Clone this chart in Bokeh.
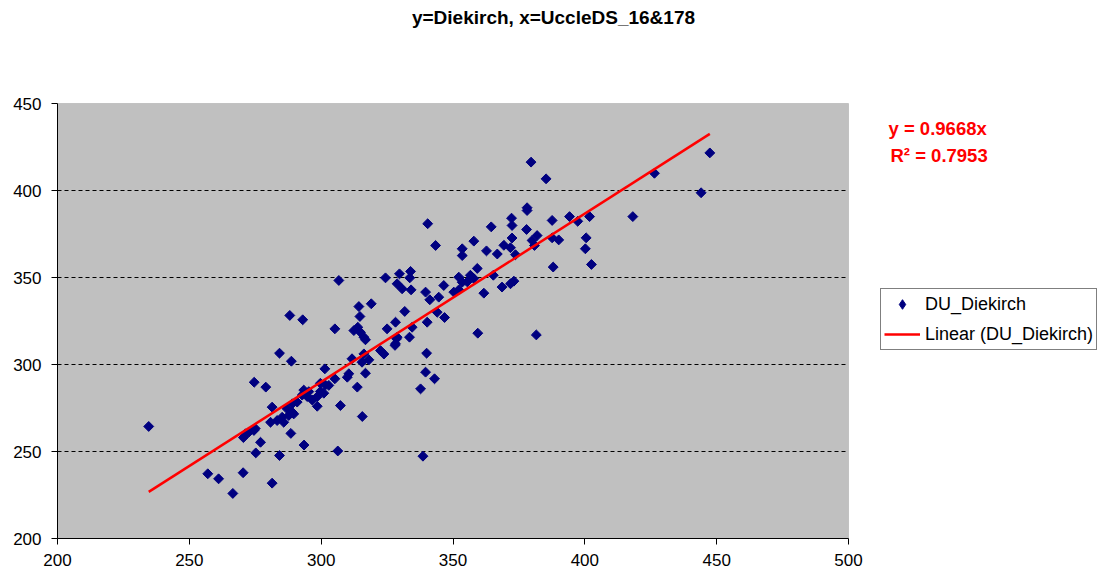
import math
from bokeh.plotting import figure
from bokeh.models import Range1d, Label, FixedTicker, Legend, BoxAnnotation
from bokeh.embed import file_html
from bokeh.resources import INLINE

# UccleDS_16&178 (x) vs Diekirch (y)
x_vals = [
    234.6, 257.0, 261.1, 266.5, 270.4, 281.4, 275.2, 284.2, 277.0, 293.5,
    306.3, 271.3, 272.5, 274.5, 270.5, 275.0, 288.5, 298.5, 307.3, 281.4,
    287.1, 289.0, 290.9, 287.7, 289.6, 285.2, 283.3, 280.8, 285.8, 289.0,
    274.6, 279.0, 284.2, 288.7, 288.1, 293.0, 301.4, 301.6, 299.7, 295.3,
    293.4, 298.5, 296.6, 292.8, 294.7, 299.7, 301.0, 302.9, 315.6, 310.5,
    309.9, 305.2, 313.7, 316.8, 311.7, 318.1, 316.2, 315.5, 322.5, 323.8,
    328.2, 328.8, 305.2, 312.4, 313.9, 314.9, 316.2, 316.8, 314.7, 314.3,
    319.0, 325.0, 328.2, 331.7, 333.5, 328.6, 328.0, 334.5, 340.2, 344.0,
    346.8, 340.0, 339.6, 343.0, 337.7, 338.6, 359.4, 381.6, 306.7, 324.4,
    329.7, 333.9, 333.6, 328.8, 330.7, 334.1, 339.6, 341.2, 344.6, 346.5,
    352.2, 353.5, 352.2, 350.3, 353.5, 353.5, 357.9, 362.7, 364.5, 359.2,
    356.6, 355.4, 357.9, 361.7, 365.3, 366.8, 369.3, 372.4, 373.7, 371.8,
    368.6, 371.8, 373.1, 372.2, 372.4, 378.1, 378.1, 377.9, 379.6, 385.3,
    340.4, 343.4, 447.4, 426.4, 444.1, 418.2, 387.6, 394.2, 397.3, 401.8,
    381.9, 380.0, 380.9, 387.6, 390.1, 400.5, 400.2, 388.0, 402.5,
]
y_vals = [
    264.4, 237.2, 234.3, 225.9, 237.8, 231.8, 249.2, 247.7, 255.3, 253.7,
    250.3, 260.2, 261.0, 262.1, 258.0, 263.2, 260.4, 276.0, 276.4, 275.5,
    274.5, 277.4, 278.4, 270.7, 271.6, 269.7, 267.8, 266.8, 266.8, 272.6,
    289.8, 287.0, 306.5, 301.9, 328.2, 325.7, 297.5, 288.2, 289.2, 284.4,
    285.3, 281.5, 279.6, 282.4, 281.6, 284.5, 283.5, 288.0, 270.1, 294.7,
    292.7, 291.8, 287.0, 295.0, 303.3, 302.7, 306.1, 301.3, 308.0, 306.0,
    311.9, 315.7, 320.5, 319.5, 321.4, 318.5, 315.7, 314.2, 327.6, 333.3,
    334.9, 320.5, 324.3, 330.5, 315.7, 314.8, 311.0, 321.4, 324.3, 330.0,
    327.0, 306.5, 295.6, 291.8, 286.0, 247.3, 318.0, 317.0, 348.3, 349.8,
    352.1, 353.5, 349.8, 346.4, 343.5, 342.9, 341.6, 337.2, 338.7, 345.4,
    350.2, 347.3, 342.9, 341.6, 366.5, 362.6, 370.9, 365.3, 379.1, 355.2,
    351.3, 347.5, 349.4, 341.0, 351.3, 363.5, 368.5, 372.7, 363.1, 367.1,
    344.5, 346.4, 347.9, 384.1, 379.9, 390.1, 388.5, 377.6, 416.3, 406.7,
    380.9, 368.4, 421.6, 409.9, 398.7, 385.0, 382.8, 385.0, 382.3, 385.0,
    374.1, 371.3, 368.4, 372.8, 371.6, 372.8, 366.5, 356.0, 357.5,
]
slope = 0.9668
r2 = 0.7953
x_ticks = [200, 250, 300, 350, 400, 450, 500]
y_ticks = [200, 250, 300, 350, 400, 450]
grid_ticks = [250, 300, 350, 400]
title_text = "y=Diekirch, x=UccleDS_16&178"
series_name = "DU_Diekirch"
trend_name = "Linear (DU_Diekirch)"

FONT = "Liberation Sans"
NAVY = "#000080"

# layout (pixels)
W, H = 1100, 575
LEFT, BOTTOM = 57, 37
PLOT_W, PLOT_H = 791, 435          # size of the grey plot area
X0, X1 = x_ticks[0], x_ticks[-1]
Y0, Y1 = y_ticks[0], y_ticks[-1]
frame_w = W - LEFT
frame_h = H - BOTTOM
x_end = X0 + (X1 - X0) * frame_w / PLOT_W
y_end = Y0 + (Y1 - Y0) * frame_h / PLOT_H

p = figure(width=W, height=H, output_backend="svg", toolbar_location=None,
           x_range=Range1d(X0, x_end), y_range=Range1d(Y0, y_end),
           min_border_left=LEFT, min_border_right=0, min_border_top=0,
           min_border_bottom=BOTTOM)
p.background_fill_color = "white"
p.border_fill_color = "white"
p.outline_line_color = None

p.add_layout(BoxAnnotation(left=X0, right=X1, bottom=Y0, top=Y1,
                           fill_color="#C0C0C0", fill_alpha=1,
                           line_color="#808080", line_width=1, level="image"))

p.xgrid.grid_line_color = None
yg = p.ygrid[0]
yg.ticker = FixedTicker(ticks=grid_ticks)
if "cross_bounds" in yg.properties():
    yg.cross_bounds = (X0, X1)
yg.grid_line_color = "black"
yg.grid_line_dash = "4 3"
yg.grid_line_width = 1

for ax, ticks in ((p.xaxis[0], x_ticks), (p.yaxis[0], y_ticks)):
    ax.ticker = FixedTicker(ticks=ticks)
    ax.bounds = (ticks[0], ticks[-1])
    ax.axis_line_color = "black"
    ax.axis_line_width = 1
    ax.major_tick_line_color = "black"
    ax.major_tick_out = 6
    ax.major_tick_in = 0
    ax.minor_tick_line_color = None
    ax.major_label_text_font = FONT
    ax.major_label_text_font_size = "17px"
    ax.major_label_text_color = "black"
p.xaxis[0].major_label_standoff = 9
p.yaxis[0].major_label_standoff = 10

sc = p.scatter(x_vals, y_vals, marker="square", angle=math.pi / 4, size=7,
               fill_color=NAVY, line_color=NAVY)
# legend key for the series (legend keys ignore marker angle, so use a diamond)
key = p.scatter(x_vals, y_vals, marker="diamond", size=10,
                fill_color=NAVY, line_color=NAVY, visible=False)
xa, xb = min(x_vals), max(x_vals)
ln = p.line([xa, xb], [slope * xa, slope * xb], line_color="#FF0000", line_width=2.5)

legend = Legend(items=[(series_name, [key]), (trend_name, [ln])],
                location=(823, 188))
legend.border_line_color = "black"
legend.border_line_width = 1
legend.background_fill_color = "white"
legend.background_fill_alpha = 1
legend.label_text_font = FONT
legend.label_text_font_size = "18px"
legend.label_text_color = "black"
legend.glyph_width = 36
legend.glyph_height = 24
legend.label_height = 24
legend.spacing = 6
legend.padding = 3
legend.margin = 0
legend.label_standoff = 5
p.add_layout(legend)

p.add_layout(Label(x=496, y=521, x_units="screen", y_units="screen",
                   text=title_text, text_font=FONT, text_font_style="bold",
                   text_font_size="19px", text_align="center",
                   text_baseline="middle", text_color="black"))
p.add_layout(Label(x=831, y=410, x_units="screen", y_units="screen",
                   text=f"y = {slope}x", text_font=FONT, text_font_style="bold",
                   text_font_size="18.5px", text_align="left",
                   text_baseline="middle", text_color="#FF0000"))
p.add_layout(Label(x=833, y=383, x_units="screen", y_units="screen",
                   text=f"R\u00b2 = {r2}", text_font=FONT, text_font_style="bold",
                   text_font_size="18.5px", text_align="left",
                   text_baseline="middle", text_color="#FF0000"))

open("out.html", "w").write(file_html(p, INLINE))
